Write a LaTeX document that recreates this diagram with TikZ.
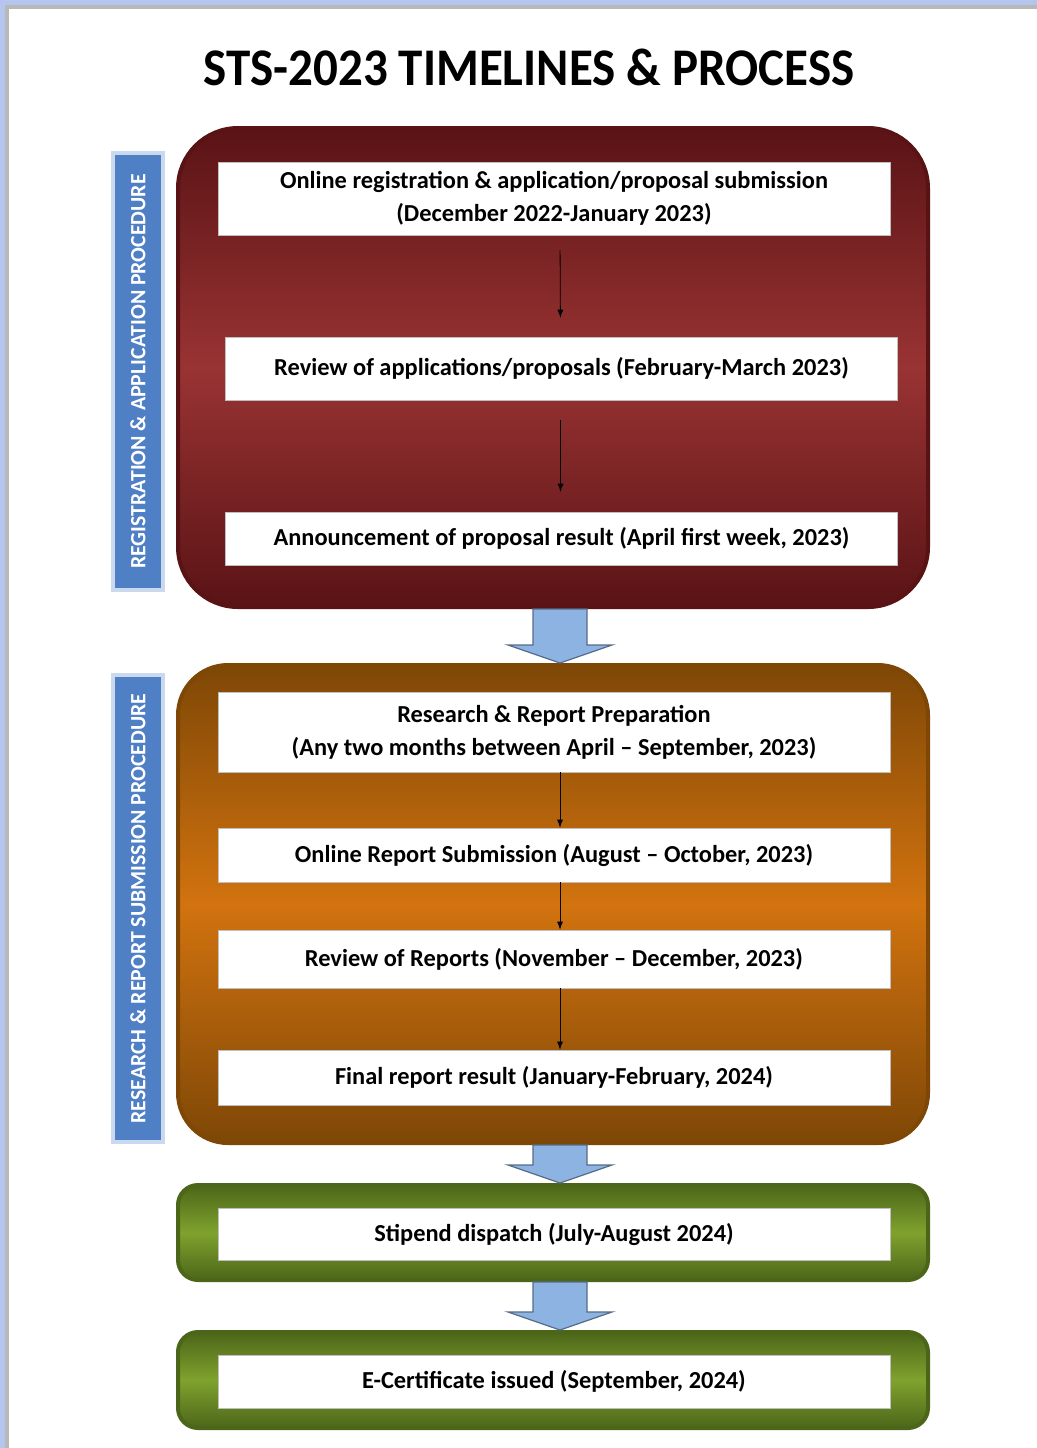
\documentclass[tikz,border=0pt]{standalone}
\usepackage{graphicx}
\usepackage{fontspec}
\setmainfont{Carlito}
\usepackage{tikz}
\usetikzlibrary{calc}
\usetikzlibrary{positioning}

\definecolor{frameblue}{HTML}{B4C6EE}
\definecolor{redD}{HTML}{5A1315}
\definecolor{redM}{HTML}{993333}
\definecolor{orD}{HTML}{7E4706}
\definecolor{orM}{HTML}{D2730F}
\definecolor{grD}{HTML}{4C6619}
\definecolor{grM}{HTML}{7FA22E}
\definecolor{labblue}{HTML}{4F7FC4}
\definecolor{arrblue}{HTML}{8DB3E2}

\tikzset{
  phase/.style={minimum width=375pt,line width=2pt},
  stepbox/.style={fill=white,draw=black!25,line width=0.4pt,minimum width=336pt,align=center,
    font=\bfseries\fontsize{12.2}{16.5}\selectfont},
  sidelabel/.style={fill=labblue,draw=labblue!30,line width=2pt,rotate=90,minimum height=25pt,
    text=white,font=\bfseries\fontsize{10.9}{12}\selectfont},
  bigarr/.style={fill=arrblue,draw=arrblue!60!black,line width=0.6pt},
}

\newcommand{\bigarrow}[2]{%
  \draw[bigarr] ($(#1.south)+(-20,0)$) -- ($(#2.north)+(-20,-18)$) -- ($(#2.north)+(-45,-18)$)
    -- ($(#2.north)+(7,0)$) -- ($(#2.north)+(59,-18)$) -- ($(#2.north)+(34,-18)$) -- ($(#1.south)+(34,0)$) -- cycle;}

\begin{document}
\begin{tikzpicture}[x=0.5pt,y=-0.5pt]
\useasboundingbox (0,0) rectangle (1037,1448);

% page frame
\fill[frameblue] (0,0) rectangle (1037,5);
\fill[frameblue] (0,0) rectangle (5,1448);
\fill[black!28] (5,5) rectangle (1037,9);
\fill[black!28] (5,5) rectangle (9,1448);

\node (title) at (529,67) {\scalebox{1}[1.08]{\bfseries\fontsize{24.5}{28}\selectfont STS-2023 TIMELINES \& PROCESS}};

% phases
\node[phase,minimum height=239.5pt,rounded corners=30pt,draw=redD,top color=redD,bottom color=redD,middle color=redM] (reg) at (553,367.5) {};
\node[phase,minimum height=239pt,rounded corners=25pt,draw=orD,top color=orD,bottom color=orD,middle color=orM] (res) at (553,904) {};
\node[phase,minimum height=47.5pt,rounded corners=10pt,draw=grD,top color=grD,bottom color=grD,middle color=grM] (stip) at (553,1232.5) {};
\node[phase,minimum height=48pt,rounded corners=10pt,draw=grD,top color=grD,bottom color=grD,middle color=grM] (cert) at (553,1380) {};

\node[sidelabel,minimum width=218.5pt] (lab1) at (138,371.5) {REGISTRATION \& APPLICATION PROCEDURE};
\node[sidelabel,minimum width=233.5pt] (lab2) at (138,908.5) {RESEARCH \& REPORT SUBMISSION PROCEDURE};

% registration steps
\node[stepbox,minimum height=36.5pt] (r1) at (554,198.5) {Online registration \& application/proposal submission\\(December 2022-January 2023)};
\node[stepbox,minimum height=31.5pt] (r2) at (561.5,368.5) {Review of applications/proposals (February-March 2023)};
\node[stepbox,minimum height=26.5pt] (r3) at (561.5,538.5) {Announcement of proposal result (April first week, 2023)};

% research steps
\node[stepbox,minimum height=40pt] (s1) at (554,732) {Research \& Report Preparation\\(Any two months between April -- September, 2023)};
\node[stepbox,minimum height=27pt] (s2) at (554,855) {Online Report Submission (August -- October, 2023)};
\node[stepbox,minimum height=29pt] (s3) at (554,959) {Review of Reports (November -- December, 2023)};
\node[stepbox,minimum height=27.5pt] (s4) at (554,1077.5) {Final report result (January-February, 2024)};

% last steps
\node[stepbox,minimum height=26pt] (g1) at (554,1234) {Stipend dispatch (July-August 2024)};
\node[stepbox,minimum height=26.5pt] (g2) at (554,1381.5) {E-Certificate issued (September, 2024)};

\draw[-latex,shorten <=7.5pt,shorten >=9.5pt] ([xshift=3pt]r1.south) -- ([xshift=-0.5pt]r2.north);
\draw[-latex,shorten <=10pt,shorten >=10pt] ([xshift=-0.5pt]r2.south) -- ([xshift=-0.5pt]r3.north);
\draw[-latex] ([xshift=3pt]s1.south) -- ([xshift=3pt]s2.north);
\draw[-latex] ([xshift=3pt]s2.south) -- ([xshift=3pt]s3.north);
\draw[-latex] ([xshift=3pt]s3.south) -- ([xshift=3pt]s4.north);

\bigarrow{reg}{res}
\bigarrow{res}{stip}
\bigarrow{stip}{cert}
\end{tikzpicture}
\end{document}
